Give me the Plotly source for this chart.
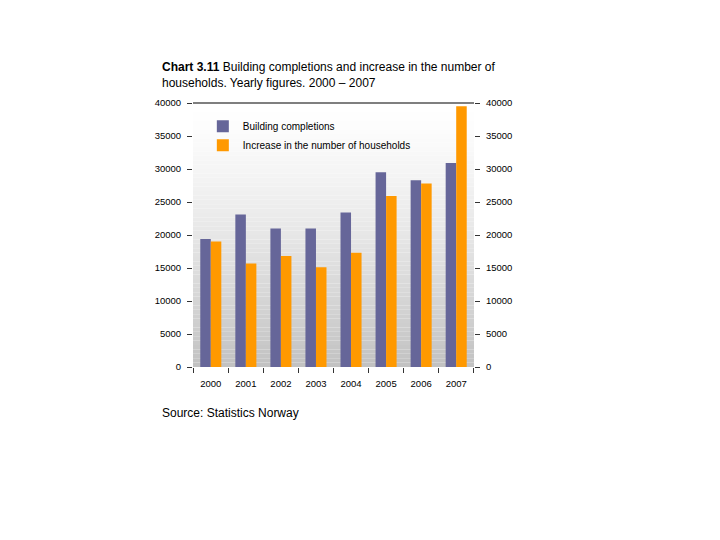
import plotly.graph_objects as go

years = ["2000", "2001", "2002", "2003", "2004", "2005", "2006", "2007"]
building_completions = [19400, 23100, 21000, 21000, 23400, 29500, 28300, 30900]
household_increase = [19000, 15700, 16800, 15100, 17300, 25900, 27800, 39500]
y_ticks = [0, 5000, 10000, 15000, 20000, 25000, 30000, 35000, 40000]
y_tick_labels = [str(v) for v in y_ticks]

FONT = "Liberation Sans, Arial, sans-serif"

fig = go.Figure()
fig.add_trace(go.Bar(x=years, y=building_completions, name="Building completions",
                     marker=dict(color="#666699", line=dict(width=0))))
fig.add_trace(go.Bar(x=years, y=household_increase, name="Increase in the number of households",
                     marker=dict(color="#ff9900", line=dict(width=0))))
# invisible trace to activate right axis
fig.add_trace(go.Scatter(x=years, y=building_completions, yaxis="y2", mode="markers",
                         marker=dict(opacity=0), showlegend=False, hoverinfo="skip"))

# vertical gradient background
shapes = []
n = 60
for i in range(n):
    t = i / (n - 1)
    g = int(round(255 - (255 - 194) * (t ** 1.3)))
    shapes.append(dict(type="rect", xref="x domain", yref="y domain",
                       x0=0, x1=1, y0=1 - (i + 1) / n, y1=1 - i / n,
                       fillcolor=f"rgb({g},{g},{g})", line=dict(width=0), layer="below"))
shapes.append(dict(type="line", xref="x domain", yref="y domain", x0=0, x1=1, y0=1, y1=1,
                   line=dict(color="black", width=1.2)))

axis_common = dict(range=[0, 40000], tickvals=y_ticks, ticktext=y_tick_labels,
                   showgrid=False, zeroline=False, showline=False, ticks="outside",
                   ticklen=5, tickcolor="#333", tickfont=dict(size=9.5), ticklabelstandoff=4)

fig.update_layout(
    width=720, height=540,
    margin=dict(l=185, r=254, t=95, b=181, autoexpand=False),
    paper_bgcolor="white", plot_bgcolor="white",
    barmode="group", bargap=0.4, bargroupgap=0,
    font=dict(family=FONT, size=9, color="black"),
    shapes=shapes,
    showlegend=True,
    legend=dict(x=0.035, y=0.967, xanchor="left", yanchor="top",
                bgcolor="rgba(0,0,0,0)", font=dict(size=10, family=FONT),
                itemwidth=30, tracegroupgap=0),
    xaxis=dict(showgrid=False, zeroline=False, showline=False,
               ticks="outside", tickson="boundaries", ticklen=5, tickcolor="#333",
               tickfont=dict(size=9.5), ticklabelstandoff=9),
    yaxis=axis_common,
    yaxis2=dict(axis_common, overlaying="y", side="right"),
    annotations=[
        dict(text="<b>Chart 3.11</b> Building completions and increase in the number of<br>households. Yearly figures. 2000 – 2007",
             xref="paper", yref="paper", x=-33/281, y=1 + 11/264, xanchor="left", yanchor="bottom",
             align="left", showarrow=False, font=dict(size=12, family=FONT)),
        dict(text="Source: Statistics Norway", xref="paper", yref="paper",
             x=-33/281, y=-46/264, xanchor="left", yanchor="middle", align="left",
             showarrow=False, font=dict(size=12, family=FONT)),
    ],
)

fig.write_html("out.html")
